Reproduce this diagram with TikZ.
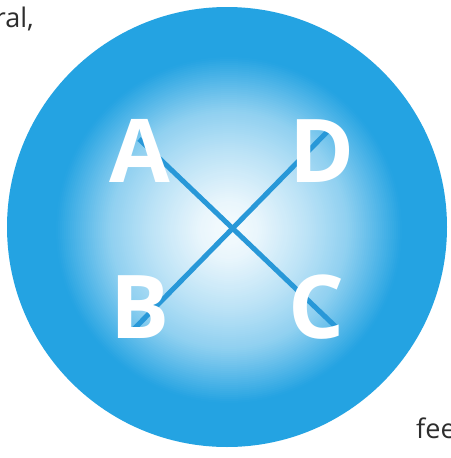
\documentclass[tikz,border=0pt]{standalone}
\usepackage{fontspec}
\setmainfont{Open Sans}
\definecolor{ballblue}{RGB}{36,163,226}
\definecolor{linkblue}{RGB}{40,152,216}
\definecolor{inkgray}{RGB}{45,45,45}
\tikzset{
  letter/.style={text=white, inner sep=0pt, font=\fontsize{88}{88}\bfseries\selectfont},
  link/.style={draw=linkblue, line width=5pt},
  page/.style={text=inkgray, inner sep=0pt, font=\fontsize{27}{30}\selectfont}
}
\begin{document}
\begin{tikzpicture}[x=1pt,y=-1pt]
\fill[white] (0,0) rectangle (450,458);
\clip (0,0) rectangle (450,458);
\useasboundingbox (0,0) rectangle (450,458);
\fill[ballblue] (227,227) circle (220);
\foreach \r in {175,173,...,1}{
  \pgfmathsetmacro\w{\r<30 ? 96-0.2*\r : (\r<80 ? 90-0.42*(\r-30) : (\r<120 ? 69-0.5*(\r-80) : (\r<150 ? 49-0.9*(\r-120) : (\r<174 ? 22-0.917*(\r-150) : 0))))}
  \fill[white!\w!ballblue] (229,230) circle (\r);
}
\coordinate (l1a) at (139,139);
\coordinate (l1b) at (336,327);
\coordinate (l2a) at (131,332);
\coordinate (l2b) at (328,131);
\draw[link] (l1a) -- (l1b);
\draw[link] (l2a) -- (l2b);
\node[letter] (A) at (140,150.5) {A};
\node[letter] (D) at (322,151.5) {D};
\node[letter] (B) at (140,307) {B};
\node[letter] (C) at (317,307.5) {C};
\node[page, anchor=base east] (ral) at (34,27) {ral,};
\node[page, anchor=base west] (fee) at (416,438) {fee};
\end{tikzpicture}
\end{document}
